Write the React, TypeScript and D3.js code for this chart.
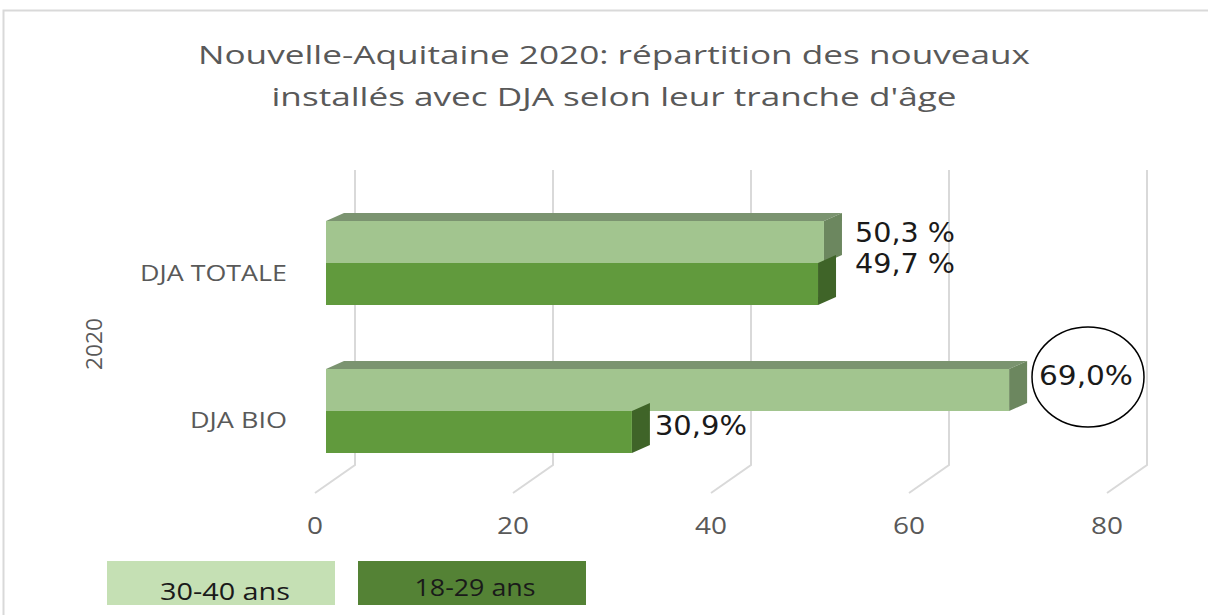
import React from 'react';
import * as d3 from 'd3';

const categories = ['DJA TOTALE', 'DJA BIO'];
const seriesNames = ['30-40 ans', '18-29 ans'];
const older = [50.3, 69.0];
const younger = [49.7, 30.9];
const olderLabels = ['50,3 %', '69,0%'];
const youngerLabels = ['49,7 %', '30,9%'];
const ticks = [0, 20, 40, 60, 80];

const W = 1208;
const H = 615;
const DX = 18; // bar depth offset
const DY = 8;
const BAR_H = 42;

const faces = [
  { front: '#a2c58f', side: '#6c875f', top: '#7b9470' },
  { front: '#619a3d', side: '#3f6428', top: '#4f7a33' },
];

const sans = "'Open Sans', 'Noto Sans', sans-serif";

const App = () => {
  const x = d3.scaleLinear().domain([0, 80]).range([326, 1118]);
  const y = d3.scalePoint<string>().domain(categories).range([263, 411]);
  const gray = '#595959';

  const bar = (v: number, top: number, c: typeof faces[0], key: string, showTop: boolean) => {
    const x0 = x(0);
    const x1 = x(v);
    return (
      <g key={key}>
        {showTop && (
          <path
            d={`M${x0},${top} L${x0 + DX},${top - DY} L${x1 + DX},${top - DY} L${x1},${top} Z`}
            fill={c.top}
          />
        )}
        <path
          d={`M${x1},${top} L${x1 + DX},${top - DY} L${x1 + DX},${top + BAR_H - DY} L${x1},${top + BAR_H} Z`}
          fill={c.side}
        />
        <rect x={x0} y={top} width={x1 - x0} height={BAR_H} fill={c.front} />
      </g>
    );
  };

  const label = (txt: string, lx: number, ly: number, len: number) => (
    <text
      x={lx}
      y={ly}
      fontFamily="'DejaVu Sans', Verdana, sans-serif"
      fontSize={26}
      fill="#1a1a1a"
      textLength={len}
      lengthAdjust="spacingAndGlyphs"
    >
      {txt}
    </text>
  );

  return (
    <svg
      width={W}
      height={H}
      viewBox={`0 0 ${W} ${H}`}
      style={{ position: 'absolute', left: 0, top: 0, background: '#fff' }}
    >
      <rect x={3.5} y={10.5} width={W + 20} height={H + 20} fill="#fff" stroke="#d9d9d9" strokeWidth={2} />

      <text x={614} y={64} textAnchor="middle" fontFamily={sans} fontSize={26} fill={gray}
        textLength={832} lengthAdjust="spacingAndGlyphs">
        Nouvelle-Aquitaine 2020: répartition des nouveaux
      </text>
      <text x={614} y={106} textAnchor="middle" fontFamily={sans} fontSize={26} fill={gray}
        textLength={685} lengthAdjust="spacingAndGlyphs">
        installés avec DJA selon leur tranche d'âge
      </text>

      {ticks.map((t) => (
        <g key={t}>
          <path
            d={`M${x(t) + 29},170 L${x(t) + 29},465 L${x(t) - 11},493`}
            fill="none"
            stroke="#d9d9d9"
            strokeWidth={2}
          />
          <text
            x={x(t) - 11}
            y={534}
            textAnchor="middle"
            fontFamily={sans}
            fontSize={23}
            fill={gray}
            textLength={String(t).length * 16}
            lengthAdjust="spacingAndGlyphs"
          >
            {t}
          </text>
        </g>
      ))}

      {categories.map((cat, i) => {
        const cy = y(cat) as number;
        return (
          <g key={cat}>
            {bar(older[i], cy - BAR_H, faces[0], 'o' + i, true)}
            {bar(younger[i], cy, faces[1], 'y' + i, false)}
            <text x={287} y={i === 0 ? 281 : 428} textAnchor="end" fontFamily={sans} fontSize={21} fill={gray}
              textLength={i === 0 ? 147 : 97} lengthAdjust="spacingAndGlyphs">
              {cat}
            </text>
          </g>
        );
      })}

      {/* value labels */}
      {label(olderLabels[0], 855, 242, 100)}
      {label(youngerLabels[0], 855, 273, 100)}
      {label(olderLabels[1], 1039, 385, 94)}
      {label(youngerLabels[1], x(younger[1]) + 23, 435, 92)}
      <ellipse cx={1088} cy={377} rx={56} ry={50} fill="none" stroke="#000" strokeWidth={1.5} />

      <text
        transform="translate(102,344) rotate(-90)"
        textAnchor="middle"
        fontFamily={sans}
        fontSize={21}
        fill={gray}
        textLength={52}
        lengthAdjust="spacingAndGlyphs"
      >
        2020
      </text>

      {/* legend */}
      <rect x={107} y={561} width={228} height={44} fill="#c5e0b4" />
      <text x={225} y={600} textAnchor="middle" fontFamily={sans} fontSize={24} fill="#1a1a1a"
        textLength={130} lengthAdjust="spacingAndGlyphs">
        {seriesNames[0]}
      </text>
      <rect x={358} y={561} width={228} height={44} fill="#548235" />
      <text x={475} y={596} textAnchor="middle" fontFamily={sans} fontSize={23} fill="#1a1a1a"
        textLength={121} lengthAdjust="spacingAndGlyphs">
        {seriesNames[1]}
      </text>
    </svg>
  );
};

export default App;
